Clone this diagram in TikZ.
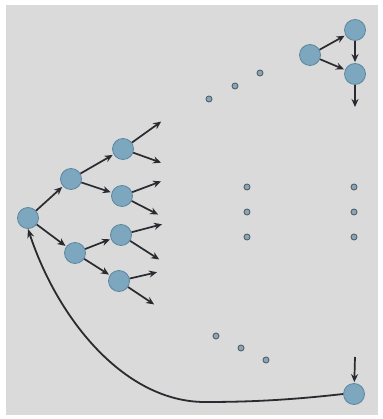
\documentclass[tikz,border=0pt]{standalone}
\usetikzlibrary{arrows.meta}
\definecolor{panel}{HTML}{D9DAD9}
\definecolor{nodefill}{HTML}{7DA7BF}
\definecolor{nodeedge}{HTML}{5C869E}
\definecolor{arrowcol}{HTML}{2B2A30}
\definecolor{dotfill}{HTML}{8AA6B6}
\definecolor{dotedge}{HTML}{55606B}
\tikzset{
  bignode/.style={circle,fill=nodefill,draw=nodeedge,line width=0.8pt,minimum size=21pt,inner sep=0pt},
  smalldot/.style={circle,fill=dotfill,draw=dotedge,line width=0.9pt,minimum size=6pt,inner sep=0pt},
  arr/.style={draw=arrowcol,line width=1.7pt,-{Stealth[length=8pt,width=7pt]},shorten >=1pt},
  curvearr/.style={draw=arrowcol,line width=1.8pt,-{Stealth[length=9pt,width=7pt]}}
}
\begin{document}
\begin{tikzpicture}[x=1pt,y=-1pt]
\useasboundingbox (0,0) rectangle (382,419);
\fill[white] (0,0) rectangle (382,419);
\fill[panel] (6,5) rectangle (378,415);
% tree
\node[bignode] (R) at (28,218) {};
\node[bignode] (A) at (71,179) {};
\node[bignode] (B) at (75,253) {};
\node[bignode] (C1) at (123,149) {};
\node[bignode] (C2) at (122,196) {};
\node[bignode] (C3) at (121,235) {};
\node[bignode] (C4) at (119,281) {};
\coordinate (L1) at (162,121);
\coordinate (L2) at (162,163);
\coordinate (L3) at (162,181);
\coordinate (L4) at (159,215);
\coordinate (L5) at (163,224);
\coordinate (L6) at (160,260);
\coordinate (L7) at (158,272);
\coordinate (L8) at (155,305);
\draw[arr] (R) -- (A);
\draw[arr] (R) -- (B);
\draw[arr] (A) -- (C1);
\draw[arr] (A) -- (C2);
\draw[arr] (B) -- (C3);
\draw[arr] (B) -- (C4);
\draw[arr] (C1) -- (L1);
\draw[arr] (C1) -- (L2);
\draw[arr] (C2) -- (L3);
\draw[arr] (C2) -- (L4);
\draw[arr] (C3) -- (L5);
\draw[arr] (C3) -- (L6);
\draw[arr] (C4) -- (L7);
\draw[arr] (C4) -- (L8);
% top right triangle
\node[bignode] (T1) at (310,55) {};
\node[bignode] (T2) at (355,30) {};
\node[bignode] (T3) at (355,74) {};
\coordinate (T4) at (355,108);
\draw[arr] (T1) -- (T2);
\draw[arr] (T1) -- (T3);
\draw[arr] (T2) -- (T3);
\draw[arr] (T3) -- (T4);
% dots
\node[smalldot] (d1) at (209,99) {};
\node[smalldot] (d2) at (235,86) {};
\node[smalldot] (d3) at (260,73) {};
\node[smalldot] (m1) at (247,187) {};
\node[smalldot] (m2) at (247,212) {};
\node[smalldot] (m3) at (247,237) {};
\node[smalldot] (r1) at (354,187) {};
\node[smalldot] (r2) at (354,212) {};
\node[smalldot] (r3) at (354,237) {};
\node[smalldot] (b1) at (216,336) {};
\node[smalldot] (b2) at (241,348) {};
\node[smalldot] (b3) at (266,360) {};
% bottom node
\node[bignode] (E) at (354,394) {};
\coordinate (Etop) at (355,357);
\draw[arr] (Etop) -- (E);
\draw[curvearr] (E.west) .. controls (290,400) and (250,402) .. (205,402)
  .. controls (125,402) and (58,320) .. (R.south);
\end{tikzpicture}
\end{document}
